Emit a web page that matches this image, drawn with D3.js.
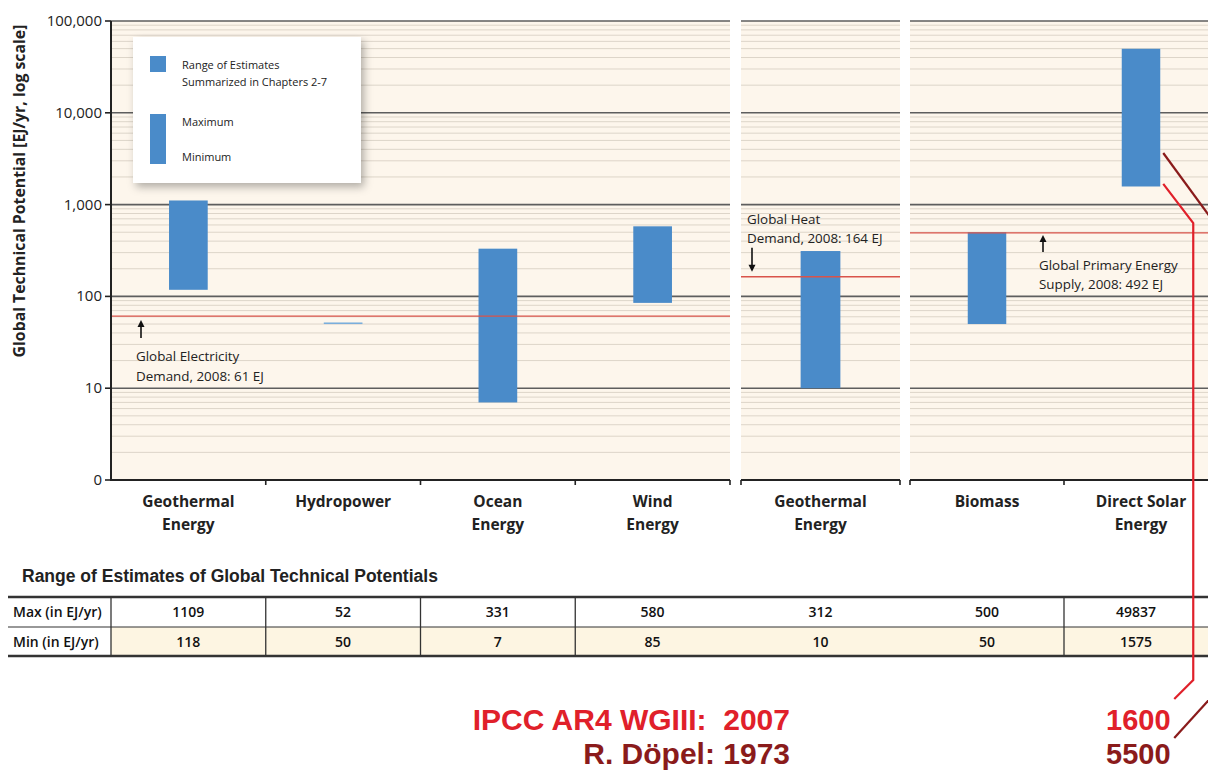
<!DOCTYPE html>
<html><head><meta charset="utf-8">
<script src="https://cdn.jsdelivr.net/npm/d3@7/dist/d3.min.js"></script>
<style>body{margin:0;background:#fff}svg{display:block}</style>
</head><body>
<svg id="chart" width="1208" height="771"></svg>
<script>
// ---------- data ----------
const categories = [["Geothermal","Energy"],["Hydropower"],["Ocean","Energy"],["Wind","Energy"],["Geothermal","Energy"],["Biomass"],["Direct Solar","Energy"]];
const groupOf = [0,0,0,0,1,2,2];
const maxValues = [1109,52,331,580,312,500,49837];
const minValues = [118,50,7,85,10,50,1575];
const yTickValues = [1,10,100,1000,10000,100000];
const yTickLabels = ["0","10","100","1,000","10,000","100,000"];
const demandValues = [61,164,492];
const demandLabels = [["Global Electricity","Demand, 2008: 61 EJ"],["Global Heat","Demand, 2008: 164 EJ"],["Global Primary Energy","Supply, 2008: 492 EJ"]];
const tableRowLabels = ["Max (in EJ/yr)","Min (in EJ/yr)"];
const historicLabels = ["IPCC AR4 WGIII:  2007","R. Döpel: 1973"];
const historicSolar = ["1600","5500"];

// ---------- layout ----------
const svg = d3.select("#chart");
const W = 1208;
const plotTop = 21, plotBottom = 480;
const groupRanges = [[111,730],[741,900],[910,1218]];
const barColor = "#4a8bc9", cream = "#fdf6ec", red = "#e0202a", darkRed = "#8a1b1b";
const font = "'Open Sans', 'Noto Sans', sans-serif";

const y = d3.scaleLog().domain([1,100000]).range([plotBottom, plotTop]);
const groupScales = groupRanges.map((r,g) => d3.scaleBand()
  .domain(d3.range(categories.length).filter(i => groupOf[i] === g))
  .range(r).padding(0));
const xs = i => groupScales[groupOf[i]];
const xc = i => xs(i)(i) + xs(i).bandwidth()/2;

const defs = svg.append("defs");
const f = defs.append("filter").attr("id","shadow").attr("x","-10%").attr("y","-10%").attr("width","130%").attr("height","130%");
f.append("feDropShadow").attr("dx",3).attr("dy",4).attr("stdDeviation",4).attr("flood-color","#000").attr("flood-opacity",0.3);

// plot backgrounds per group
groupRanges.forEach(r => {
  svg.append("rect").attr("x",r[0]).attr("y",plotTop).attr("width",Math.min(r[1],W)-r[0]).attr("height",plotBottom-plotTop).attr("fill",cream);
});

// grid
const minorVals = [];
for (let d=0; d<5; d++) for (let k=2; k<10; k++) minorVals.push(k*Math.pow(10,d));
groupRanges.forEach(r => {
  svg.append("g").selectAll("line").data(minorVals).join("line")
    .attr("x1",r[0]).attr("x2",Math.min(r[1],W)).attr("y1",d=>y(d)).attr("y2",d=>y(d))
    .attr("stroke","#ddd5c9").attr("stroke-width",1);
  svg.append("g").selectAll("line").data(yTickValues.slice(1)).join("line")
    .attr("x1",r[0]).attr("x2",Math.min(r[1],W)).attr("y1",d=>y(d)).attr("y2",d=>y(d))
    .attr("stroke","#5e5e5e").attr("stroke-width",1.6);
});

// bars
svg.append("g").selectAll("rect").data(categories.map((c,i)=>i)).join("rect")
  .attr("x", i => xc(i) - xs(i).bandwidth()*0.125)
  .attr("width", i => xs(i).bandwidth()*0.25)
  .attr("y", i => y(maxValues[i]))
  .attr("height", i => Math.max(1.5, y(minValues[i]) - y(maxValues[i])))
  .attr("fill", (i) => maxValues[i]-minValues[i] < 5 ? "#7aaedc" : barColor);

// demand lines
demandValues.forEach((v,g) => {
  const r = groupRanges[g];
  svg.append("line").attr("x1",r[0]).attr("x2",Math.min(r[1],W)).attr("y1",y(v)).attr("y2",y(v))
    .attr("stroke","#d9534a").attr("stroke-width",1.4);
});

// x axis segments
const xAxisG = svg.append("g");
groupRanges.forEach((r,g) => {
  xAxisG.append("line").attr("x1",r[0]).attr("x2",Math.min(r[1],W)).attr("y1",plotBottom).attr("y2",plotBottom)
    .attr("stroke","#222").attr("stroke-width",2);
  const ticks = [r[0], r[1]].concat(groupScales[g].domain().slice(1).map(i => groupScales[g](i)));
  ticks.filter(t => t > 111 && t < W).forEach(t => {
    xAxisG.append("line").attr("x1",t).attr("x2",t).attr("y1",plotBottom).attr("y2",plotBottom+5).attr("stroke","#222").attr("stroke-width",1.6);
  });
});

// y axis
const yAxisG = svg.append("g");
yAxisG.append("line").attr("x1",111).attr("x2",111).attr("y1",plotTop).attr("y2",plotBottom+1).attr("stroke","#222").attr("stroke-width",2);
yAxisG.selectAll("line.t").data(yTickValues).join("line").attr("class","t")
  .attr("x1",105).attr("x2",111).attr("y1",d=>y(d)).attr("y2",d=>y(d)).attr("stroke","#222").attr("stroke-width",1.6);
yAxisG.selectAll("text").data(yTickValues).join("text")
  .attr("x",102).attr("y",d=>y(d)+5).attr("text-anchor","end")
  .attr("font-family",font).attr("font-size",15).attr("fill","#222")
  .text((d,i)=>yTickLabels[i]);
svg.append("text").attr("transform","translate(25,191) rotate(-90)").attr("text-anchor","middle")
  .attr("font-family",font).attr("font-weight",700).attr("font-size",15.8).attr("fill","#222")
  .text("Global Technical Potential [EJ/yr, log scale]");

// x labels
categories.forEach((lines,i) => {
  const t = svg.append("text").attr("text-anchor","middle").attr("font-family",font).attr("font-weight",700)
    .attr("font-size",15.5).attr("fill","#222");
  lines.forEach((l,k) => t.append("tspan").attr("x",xc(i)).attr("y",507+k*22.5).text(l));
});

// legend
const lg = svg.append("g");
lg.append("rect").attr("x",133).attr("y",37).attr("width",228).attr("height",146).attr("fill","#fff").attr("filter","url(#shadow)");
lg.append("rect").attr("x",150).attr("y",56).attr("width",16).attr("height",16).attr("fill",barColor);
lg.append("rect").attr("x",150).attr("y",114).attr("width",16).attr("height",50).attr("fill",barColor);
const lt = (x,yy,s) => lg.append("text").attr("x",x).attr("y",yy).attr("font-family",font).attr("font-size",11).attr("fill","#222").text(s);
lt(182,69,"Range of Estimates"); lt(182,86,"Summarized in Chapters 2-7");
lt(182,126,"Maximum"); lt(182,161,"Minimum");

// annotations
function arrow(x, y1, y2) { // from y1 to tip y2
  const dir = y2 < y1 ? 1 : -1;
  svg.append("line").attr("x1",x).attr("x2",x).attr("y1",y1).attr("y2",y2+dir*6).attr("stroke","#111").attr("stroke-width",1.6);
  svg.append("path").attr("d",`M${x-3.5},${y2+dir*7} L${x},${y2} L${x+3.5},${y2+dir*7}Z`).attr("fill","#111");
}
function label(x, yy, lines) {
  const t = svg.append("text").attr("font-family",font).attr("font-size",13.4).attr("fill","#222");
  lines.forEach((l,k) => t.append("tspan").attr("x",x).attr("y",yy+k*19.5).text(l));
}
arrow(141, y(demandValues[0])+22, y(demandValues[0])+4);
label(136, y(demandValues[0])+45, demandLabels[0]);
arrow(752, y(demandValues[1])-29, y(demandValues[1])-5);
label(747, y(demandValues[1])-53, demandLabels[1]);
arrow(1043, y(demandValues[2])+19, y(demandValues[2])+2);
label(1039, y(demandValues[2])+37, demandLabels[2]);

// table
svg.append("text").attr("x",22).attr("y",582).attr("font-family","'Liberation Sans', Arial, sans-serif")
  .attr("font-weight",700).attr("font-size",17.5).attr("fill","#222").text("Range of Estimates of Global Technical Potentials");
const tTop = 597, tMid = 627, tBot = 656;
svg.append("rect").attr("x",111).attr("y",tMid).attr("width",W-111).attr("height",tBot-tMid).attr("fill","#fdf5e2");
[[tTop,2.6],[tMid,1.2],[tBot,2.6]].forEach(([yy,sw]) => svg.append("line").attr("x1",8).attr("x2",W).attr("y1",yy).attr("y2",yy).attr("stroke","#333").attr("stroke-width",sw));
const borderIdx = [1,2,3,6];
[111].concat(borderIdx.map(i => xs(i)(i))).forEach(x => svg.append("line").attr("x1",x).attr("x2",x).attr("y1",tTop).attr("y2",tBot).attr("stroke","#333").attr("stroke-width",1.3));
tableRowLabels.forEach((l,k) => svg.append("text").attr("x",13).attr("y",(k?641.5:612)+5).attr("font-family",font)
  .attr("font-weight",600).attr("font-size",14).attr("fill","#111").text(l));
[maxValues, minValues].forEach((vals,k) => {
  svg.append("g").selectAll("text").data(vals).join("text")
    .attr("x",(d,i)=> i===6 ? (xs(i)(i)+W)/2 : xc(i)).attr("y",(k?641.5:612)+5).attr("text-anchor","middle")
    .attr("font-family",font).attr("font-weight",600).attr("font-size",14).attr("fill","#111").text(d=>d);
});

// historic overlay
const sIdx = 6;
const barRight = xc(sIdx) + xs(sIdx).bandwidth()*0.125;
svg.append("path").attr("d",`M${barRight+3},${y(1600)-2} L${barRight+33},${223} L${barRight+33},680 L${barRight+14},699`)
  .attr("fill","none").attr("stroke",red).attr("stroke-width",2.2);
svg.append("path").attr("d",`M${barRight+3},153 L${barRight+55},224`).attr("fill","none").attr("stroke",darkRed).attr("stroke-width",2.2);
svg.append("path").attr("d",`M${barRight+55},693 L${barRight+14},738`).attr("fill","none").attr("stroke",darkRed).attr("stroke-width",2.2);
const rf = "'Liberation Sans', Arial, sans-serif";
[[historicLabels[0],730,red],[historicLabels[1],764,darkRed]].forEach(([s,yy,c]) =>
  svg.append("text").attr("x",790).attr("y",yy).attr("text-anchor","end").attr("font-family",rf).attr("font-weight",700)
    .attr("font-size",30).attr("fill",c).style("white-space","pre").text(s));
[[historicSolar[0],730,red],[historicSolar[1],764,darkRed]].forEach(([s,yy,c]) =>
  svg.append("text").attr("x",1106).attr("y",yy).attr("font-family",rf).attr("font-weight",700)
    .attr("font-size",29).attr("fill",c).text(s));
</script>
</body></html>
